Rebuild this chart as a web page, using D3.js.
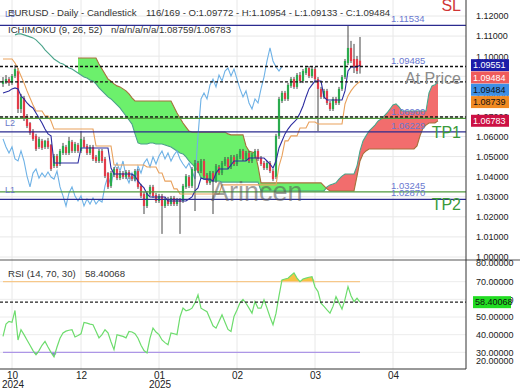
<!DOCTYPE html>
<html>
<head>
<meta charset="utf-8">
<script src="https://cdn.jsdelivr.net/npm/d3@7/dist/d3.min.js"></script>
<style>
  body { margin: 0; background: #fff; }
  #chart svg { display: block; font-family: "Liberation Sans", Arial, sans-serif; }
</style>
</head>
<body>
<div id="chart"></div>
<script>
// daily candles, oldest first
const opens = [
  1.0862, 1.0876, 1.0886, 1.0867, 1.0901, 1.0926, 1.0737, 1.0792, 1.0702, 1.0667,
  1.0627, 1.0603, 1.0548, 1.0578, 1.0548, 1.0578, 1.0558, 1.0453, 1.0503, 1.0463,
  1.0518, 1.0548, 1.0518, 1.0573, 1.0528, 1.0558, 1.0528, 1.0583, 1.0553, 1.0518,
  1.0548, 1.0498, 1.0478, 1.0528, 1.0488, 1.0418, 1.0354, 1.0408, 1.0438, 1.0393,
  1.0418, 1.0398, 1.0423, 1.0403, 1.0388, 1.0428, 1.0354, 1.0314, 1.0254, 1.0314,
  1.0349, 1.0309, 1.0279, 1.0304, 1.0254, 1.0289, 1.0264, 1.0294, 1.0264, 1.0284,
  1.0279, 1.0349, 1.0398, 1.0354, 1.0428, 1.0468, 1.0428, 1.0478, 1.0408, 1.0369,
  1.0418, 1.0378, 1.0448, 1.0418, 1.0463, 1.0488, 1.0448, 1.0498, 1.0463, 1.0498,
  1.0528, 1.0488, 1.0518, 1.0478, 1.0503, 1.0528, 1.0493, 1.0468, 1.0443, 1.0468,
  1.0428, 1.0398, 1.0603, 1.0777, 1.0817, 1.0787, 1.0852, 1.0886, 1.0847, 1.0906,
  1.0876, 1.0916, 1.0941, 1.0901, 1.0936, 1.0886, 1.0837, 1.0797, 1.0827, 1.0767,
  1.0737, 1.0787, 1.0767, 1.0837, 1.0896, 1.0966, 1.1041, 1.0986, 1.0986, 1.09772
];
const highs = [
  1.0896, 1.0906, 1.0896, 1.0911, 1.0956, 1.0941, 1.0812, 1.0802, 1.0712, 1.0672,
  1.0637, 1.0613, 1.0598, 1.0588, 1.0583, 1.0593, 1.0563, 1.0513, 1.0513, 1.0538,
  1.0568, 1.0558, 1.0598, 1.0583, 1.0573, 1.0568, 1.0627, 1.0598, 1.0563, 1.0558,
  1.0558, 1.0508, 1.0538, 1.0538, 1.0498, 1.0423, 1.0428, 1.0448, 1.0448, 1.0428,
  1.0428, 1.0433, 1.0433, 1.0413, 1.0438, 1.0438, 1.0364, 1.0324, 1.0329, 1.0359,
  1.0359, 1.0319, 1.0314, 1.0314, 1.0299, 1.0299, 1.0304, 1.0304, 1.0294, 1.0294,
  1.0364, 1.0413, 1.0408, 1.0448, 1.0483, 1.0478, 1.0488, 1.0488, 1.0418, 1.0428,
  1.0428, 1.0463, 1.0458, 1.0478, 1.0498, 1.0498, 1.0508, 1.0508, 1.0513, 1.0538,
  1.0538, 1.0528, 1.0528, 1.0518, 1.0538, 1.0538, 1.0503, 1.0478, 1.0478, 1.0478,
  1.0438, 1.0613, 1.0797, 1.0827, 1.0827, 1.0867, 1.0896, 1.0896, 1.0916, 1.0921,
  1.0936, 1.0951, 1.0951, 1.0946, 1.0946, 1.0896, 1.0847, 1.0837, 1.0837, 1.0777,
  1.0797, 1.0797, 1.0847, 1.0906, 1.0986, 1.1150, 1.1076, 1.1061, 1.1001, 1.10954
];
const lows = [
  1.0847, 1.0862, 1.0852, 1.0857, 1.0891, 1.0717, 1.0717, 1.0677, 1.0642, 1.0608,
  1.0578, 1.0528, 1.0538, 1.0533, 1.0538, 1.0538, 1.0428, 1.0443, 1.0443, 1.0453,
  1.0508, 1.0508, 1.0508, 1.0518, 1.0518, 1.0518, 1.0518, 1.0543, 1.0508, 1.0508,
  1.0478, 1.0468, 1.0468, 1.0468, 1.0393, 1.0339, 1.0344, 1.0398, 1.0383, 1.0383,
  1.0388, 1.0388, 1.0388, 1.0378, 1.0378, 1.0339, 1.0294, 1.0214, 1.0244, 1.0304,
  1.0294, 1.0269, 1.0269, 1.0115, 1.0244, 1.0254, 1.0254, 1.0254, 1.0254, 1.0115,
  1.0269, 1.0339, 1.0344, 1.0344, 1.0229, 1.0418, 1.0418, 1.0393, 1.0359, 1.0359,
  1.0214, 1.0369, 1.0408, 1.0408, 1.0453, 1.0438, 1.0438, 1.0453, 1.0453, 1.0488,
  1.0478, 1.0478, 1.0468, 1.0468, 1.0493, 1.0478, 1.0453, 1.0433, 1.0433, 1.0418,
  1.0378, 1.0388, 1.0588, 1.0767, 1.0777, 1.0777, 1.0842, 1.0837, 1.0837, 1.0866,
  1.0866, 1.0906, 1.0891, 1.0891, 1.0876, 1.0627, 1.0787, 1.0787, 1.0757, 1.0727,
  1.0727, 1.0757, 1.0757, 1.0827, 1.0886, 1.0956, 1.0966, 1.0916, 1.0911, 1.09133
];
const closes = [
  1.0876, 1.0886, 1.0867, 1.0901, 1.0936, 1.0737, 1.0797, 1.0687, 1.0652, 1.0618,
  1.0588, 1.0538, 1.0588, 1.0543, 1.0578, 1.0548, 1.0438, 1.0503, 1.0453, 1.0528,
  1.0553, 1.0518, 1.0578, 1.0528, 1.0563, 1.0528, 1.0588, 1.0548, 1.0518, 1.0548,
  1.0488, 1.0478, 1.0528, 1.0478, 1.0403, 1.0349, 1.0418, 1.0438, 1.0393, 1.0418,
  1.0398, 1.0423, 1.0398, 1.0388, 1.0428, 1.0349, 1.0304, 1.0254, 1.0319, 1.0349,
  1.0304, 1.0279, 1.0304, 1.0254, 1.0289, 1.0264, 1.0294, 1.0264, 1.0284, 1.0274,
  1.0354, 1.0403, 1.0354, 1.0438, 1.0468, 1.0428, 1.0478, 1.0403, 1.0369, 1.0418,
  1.0378, 1.0453, 1.0418, 1.0468, 1.0488, 1.0448, 1.0498, 1.0463, 1.0503, 1.0528,
  1.0488, 1.0518, 1.0478, 1.0508, 1.0528, 1.0488, 1.0463, 1.0443, 1.0468, 1.0428,
  1.0388, 1.0603, 1.0787, 1.0817, 1.0787, 1.0857, 1.0886, 1.0847, 1.0906, 1.0876,
  1.0926, 1.0941, 1.0901, 1.0936, 1.0886, 1.0837, 1.0797, 1.0827, 1.0767, 1.0737,
  1.0787, 1.0767, 1.0837, 1.0896, 1.0976, 1.1041, 1.0976, 1.0946, 1.0926, 1.09484
];

// ichimoku (9, 26, 52)
const tenkan = [
  1.0817, 1.0822, 1.0827, 1.0837, 1.0842, 1.0837, 1.0802, 1.0787, 1.0767, 1.0752,
  1.0742, 1.0717, 1.0692, 1.0667, 1.0637, 1.0613, 1.0603, 1.0468, 1.0468, 1.0468,
  1.0468, 1.0468, 1.0468, 1.0468, 1.0468, 1.0468, 1.0543, 1.0543, 1.0543, 1.0543,
  1.0543, 1.0543, 1.0543, 1.0543, 1.0543, 1.0543, 1.0443, 1.0413, 1.0413, 1.0413,
  1.0413, 1.0413, 1.0413, 1.0413, 1.0403, 1.0378, 1.0359, 1.0344, 1.0314, 1.0299,
  1.0299, 1.0299, 1.0299, 1.0299, 1.0299, 1.0279, 1.0279, 1.0279, 1.0279, 1.0279,
  1.0279, 1.0279, 1.0289, 1.0299, 1.0329, 1.0344, 1.0393, 1.0388, 1.0388, 1.0388,
  1.0378, 1.0418, 1.0438, 1.0438, 1.0438, 1.0438, 1.0458, 1.0478, 1.0478, 1.0478,
  1.0478, 1.0478, 1.0493, 1.0493, 1.0493, 1.0493, 1.0493, 1.0493, 1.0478, 1.0463,
  1.0443, 1.0478, 1.0543, 1.0578, 1.0613, 1.0637, 1.0657, 1.0672, 1.0687, 1.0717,
  1.0752, 1.0797, 1.0837, 1.0857, 1.0876, 1.0876, 1.0876, 1.0797, 1.0782, 1.0782,
  1.0782, 1.0782, 1.0782, 1.0782, 1.0827, 1.0926, 1.0946, 1.0946, 1.0946, 1.09551
];
const kijun = [
  1.0986, 1.0986, 1.0986, 1.0986, 1.0966, 1.0936, 1.0901, 1.0867, 1.0827, 1.0792,
  1.0757, 1.0727, 1.0727, 1.0727, 1.0702, 1.0702, 1.0677, 1.0637, 1.0637, 1.0637,
  1.0637, 1.0637, 1.0637, 1.0637, 1.0637, 1.0637, 1.0637, 1.0637, 1.0637, 1.0637,
  1.0637, 1.0553, 1.0553, 1.0553, 1.0553, 1.0553, 1.0553, 1.0458, 1.0458, 1.0458,
  1.0458, 1.0458, 1.0458, 1.0458, 1.0458, 1.0458, 1.0458, 1.0458, 1.0448, 1.0448,
  1.0448, 1.0448, 1.0418, 1.0418, 1.0378, 1.0378, 1.0378, 1.0339, 1.0339, 1.0314,
  1.0314, 1.0314, 1.0314, 1.0314, 1.0314, 1.0314, 1.0314, 1.0314, 1.0314, 1.0314,
  1.0314, 1.0314, 1.0314, 1.0359, 1.0359, 1.0359, 1.0359, 1.0359, 1.0359, 1.0359,
  1.0359, 1.0359, 1.0359, 1.0359, 1.0359, 1.0359, 1.0359, 1.0359, 1.0359, 1.0359,
  1.0359, 1.0359, 1.0453, 1.0503, 1.0578, 1.0578, 1.0603, 1.0603, 1.0603, 1.0642,
  1.0642, 1.0642, 1.0672, 1.0672, 1.0672, 1.0662, 1.0662, 1.0662, 1.0662, 1.0662,
  1.0662, 1.0662, 1.0662, 1.0662, 1.0762, 1.0802, 1.0827, 1.0847, 1.0862, 1.08739
];
// senkou spans, already shifted 26 bars forward (146 slots)
const spanA = [
  null, null, null, null, 1.1106, 1.1111, 1.1111, 1.1106, 1.1101, 1.1096,
  1.1091, 1.1081, 1.1066, 1.1051, 1.1031, 1.1016, 1.1001, 1.0986, 1.0976, 1.0966,
  1.0961, 1.0951, 1.0941, 1.0936, 1.0926, 1.0916, 1.0906, 1.0896, 1.0891, 1.0881,
  1.0876, 1.0862, 1.0842, 1.0827, 1.0812, 1.0797, 1.0787, 1.0772, 1.0757, 1.0742,
  1.0722, 1.0702, 1.0682, 1.0662, 1.0613, 1.0568, 1.0563, 1.0563, 1.0563, 1.0568,
  1.0568, 1.0563, 1.0563, 1.0563, 1.0558, 1.0553, 1.0548, 1.0538, 1.0528, 1.0518,
  1.0513, 1.0498, 1.0478, 1.0463, 1.0448, 1.0428, 1.0393, 1.0388, 1.0383, 1.0378,
  1.0378, 1.0378, 1.0378, 1.0373, 1.0373, 1.0373, 1.0373, 1.0373, 1.0373, 1.0373,
  1.0373, 1.0373, 1.0373, 1.0373, 1.0373, 1.0373, 1.0329, 1.0329, 1.0329, 1.0329,
  1.0329, 1.0329, 1.0329, 1.0329, 1.0329, 1.0329, 1.0329, 1.0329, 1.0329, 1.0329,
  1.0329, 1.0329, 1.0329, 1.0329, 1.0329, 1.0329, 1.0329, 1.0329, 1.0349, 1.0359,
  1.0364, 1.0369, 1.0388, 1.0403, 1.0413, 1.0413, 1.0413, 1.0413, 1.0453, 1.0528,
  1.0578, 1.0603, 1.0627, 1.0642, 1.0657, 1.0677, 1.0687, 1.0702, 1.0717, 1.0737,
  1.0757, 1.0762, 1.0747, 1.0727, 1.0727, 1.0727, 1.0727, 1.0727, 1.0727, 1.0727,
  1.0727, 1.0727, 1.0817, 1.0852, 1.0857, 1.08759
];
const spanB = [
  null, null, null, null, null, null, null, null, null, null,
  null, null, null, null, null, null, null, null, null, null,
  null, null, null, null, null, 1.0991, 1.0991, 1.0991, 1.0991, 1.0991,
  1.0991, 1.0991, 1.0961, 1.0936, 1.0911, 1.0886, 1.0876, 1.0862, 1.0852, 1.0847,
  1.0837, 1.0827, 1.0812, 1.0792, 1.0777, 1.0777, 1.0777, 1.0777, 1.0777, 1.0777,
  1.0777, 1.0777, 1.0777, 1.0777, 1.0777, 1.0777, 1.0777, 1.0747, 1.0717, 1.0692,
  1.0667, 1.0647, 1.0627, 1.0622, 1.0622, 1.0622, 1.0622, 1.0622, 1.0622, 1.0622,
  1.0622, 1.0622, 1.0622, 1.0622, 1.0622, 1.0613, 1.0608, 1.0608, 1.0608, 1.0608,
  1.0608, 1.0553, 1.0528, 1.0523, 1.0518, 1.0453, 1.0369, 1.0369, 1.0369, 1.0369,
  1.0369, 1.0369, 1.0369, 1.0369, 1.0369, 1.0369, 1.0369, 1.0369, 1.0369, 1.0369,
  1.0369, 1.0369, 1.0369, 1.0369, 1.0369, 1.0369, 1.0369, 1.0354, 1.0339, 1.0329,
  1.0329, 1.0329, 1.0329, 1.0329, 1.0329, 1.0329, 1.0329, 1.0329, 1.0403, 1.0478,
  1.0513, 1.0528, 1.0538, 1.0538, 1.0538, 1.0538, 1.0538, 1.0538, 1.0538, 1.0538,
  1.0538, 1.0538, 1.0538, 1.0538, 1.0538, 1.0538, 1.0538, 1.0538, 1.0553, 1.0603,
  1.0642, 1.0657, 1.0667, 1.0667, 1.0667, 1.06783
];
const chikouShift = 26;

// RSI (14)
const rsi = [
  39, 46, 47.5, 47, 53.7, 37, 42.8, 40, 37, 34,
  31, 28.7, 31, 34, 36.2, 33, 30, 27.4, 33, 38,
  41, 42, 42.5, 42.8, 38.7, 39.5, 40.5, 46.9, 46.5, 46,
  45.6, 42, 38.2, 40, 42.8, 41, 36, 31.5, 40, 39.5,
  39, 38.2, 41.8, 41.5, 40.5, 38, 34, 31, 29.7, 38,
  43.7, 41.5, 40, 37, 35.5, 34.3, 41, 40.5, 40, 50,
  55, 53.5, 54, 55, 58, 62.5, 55, 54, 53, 49,
  45, 43.7, 47.5, 51.2, 47, 43, 41.8, 50.3, 54, 58,
  60, 57.8, 55, 52.2, 58.7, 55, 55, 59.7, 55, 50,
  45.6, 52, 62, 71, 71.5, 71.9, 73.5, 75, 72, 70,
  71.5, 72, 72.5, 72.8, 67, 64.4, 57.8, 56, 54, 52.2,
  56, 61.5, 58, 54.5, 60, 67.2, 62, 58.7, 60.6, 58.40068
];
const rsiBands = [70, 30];

// horizontal trade levels
const levelValues = [1.11534, 1.09485, 1.0872, 1.0697, 1.069, 1.06229, 1.03245, 1.0287];
const levelKinds = ["blue", "dash", "dash", "dash", "green", "blue", "green", "blue"];
const levelTags = ["1.11534", "1.09485", "", "", "1.06900", "1.06229", "1.03245", "1.02870"];
const markerTexts = ["SL", "At Price", "TP1", "TP2"];
const markerValues = [1.11534, 1.0872, 1.06229, 1.0287];
const sideTexts = ["L3", "L2", "L1"];
const sideValues = [1.11534, 1.069, 1.03245];

// axis labels
const priceTicks = [1.00, 1.01, 1.02, 1.03, 1.04, 1.05, 1.06, 1.07, 1.08, 1.09, 1.10, 1.11, 1.12, 1.13];
const rsiTicks = [20, 30, 40, 50, 60, 70, 80];
const monthIdx = [3, 26, 52, 78, 104, 130];
const monthLabels = ["10", "12", "01", "02", "03", "04"];
const yearLabels = ["2024", "", "2025", "", "", ""];
const lastTags = [1.09551, 1.09484, 1.09484, 1.08739, 1.06783];
const lastRsi = 58.40068;

const svg = d3.select("#chart").append("svg").attr("width", 520).attr("height", 390);
svg.append("rect").attr("width", 520).attr("height", 390).attr("fill", "#fff");

const plotW = 466, mainH = 260, rsiTop = 260, rsiBottom = 369;
const x = d3.scaleLinear().domain([0, 119]).range([3, 360]);
const y = d3.scaleLinear().domain([1.0, 1.12]).range([257, 16]);
const yR = d3.scaleLinear().domain([20, 80]).range([370, 264]);
const f5 = d3.format(".5f");

const defs = svg.append("defs");
defs.append("clipPath").attr("id", "clipMain").append("rect").attr("width", plotW).attr("height", mainH);
defs.append("clipPath").attr("id", "clipRsi").append("rect")
    .attr("y", rsiTop).attr("width", plotW).attr("height", rsiBottom - rsiTop);

// grid
svg.selectAll(".vgrid").data(monthIdx).join("line").attr("class", "vgrid")
    .attr("x1", d => x(d)).attr("x2", d => x(d)).attr("y1", 0).attr("y2", rsiBottom)
    .attr("stroke", "#e8e8e8");
const main = svg.append("g").attr("clip-path", "url(#clipMain)");
main.selectAll(".hgrid").data(priceTicks).join("line").attr("class", "hgrid")
    .attr("x1", 0).attr("x2", plotW).attr("y1", d => y(d)).attr("y2", d => y(d))
    .attr("stroke", "#e8e8e8");

// cloud
const slots = spanA.map((a, j) => ({ j, a, b: spanB[j] }));
const both = slots.filter(d => d.a != null && d.b != null);
defs.append("clipPath").attr("id", "aboveA").append("path")
    .attr("d", d3.area().x(d => x(d.j)).y0(0).y1(d => y(d.a))(both));
defs.append("clipPath").attr("id", "belowA").append("path")
    .attr("d", d3.area().x(d => x(d.j)).y0(d => y(d.a)).y1(mainH)(both));
const cloud = d3.area().x(d => x(d.j)).y0(d => y(d.a)).y1(d => y(d.b));
main.append("path").attr("d", cloud(both)).attr("fill", "#6cf06c").attr("clip-path", "url(#aboveA)");
main.append("path").attr("d", cloud(both)).attr("fill", "#f26d6d").attr("clip-path", "url(#belowA)");
main.append("path")
    .attr("d", d3.line().defined(d => d.a != null).x(d => x(d.j)).y(d => y(d.a))(slots))
    .attr("fill", "none").attr("stroke", "#4aa38a").attr("stroke-width", 1.1);
main.append("path")
    .attr("d", d3.line().defined(d => d.b != null).x(d => x(d.j)).y(d => y(d.b))(slots))
    .attr("fill", "none").attr("stroke", "#a5713a").attr("stroke-width", 1.1);

// chikou
const chikou = closes.map((c, i) => ({ j: i - chikouShift, c })).filter(d => d.j >= 0);
main.append("path")
    .attr("d", d3.line().x(d => x(d.j)).y(d => y(d.c))(chikou))
    .attr("fill", "none").attr("stroke", "#6fb2e6").attr("stroke-width", 1.1);

// candles
const candles = closes.map((c, i) => ({ i, o: opens[i], h: highs[i], l: lows[i], c }));
main.selectAll(".wick").data(candles).join("line").attr("class", "wick")
    .attr("x1", d => x(d.i)).attr("x2", d => x(d.i))
    .attr("y1", d => y(d.h)).attr("y2", d => y(d.l))
    .attr("stroke", "#444").attr("stroke-width", 1);
main.selectAll(".body").data(candles).join("rect").attr("class", "body")
    .attr("x", d => x(d.i) - 1.1).attr("width", 2.2)
    .attr("y", d => y(Math.max(d.o, d.c)))
    .attr("height", d => Math.max(1, Math.abs(y(d.o) - y(d.c))))
    .attr("fill", d => d.c >= d.o ? "#2bab4e" : "#e23c4a");

// tenkan / kijun
main.append("path").attr("d", d3.line().x((d, i) => x(i)).y(d => y(d))(kijun))
    .attr("fill", "none").attr("stroke", "#e9a15c").attr("stroke-width", 1.1);
main.append("path").attr("d", d3.line().x((d, i) => x(i)).y(d => y(d))(tenkan))
    .attr("fill", "none").attr("stroke", "#2c2ca0").attr("stroke-width", 1.1);

// levels
const levelStyle = {
    blue: { stroke: "#2b2b8f", w: 1.3, dash: null },
    dash: { stroke: "#111", w: 1.4, dash: "3,2" },
    green: { stroke: "#4f9a3c", w: 1.3, dash: null }
};
levelValues.forEach((v, k) => {
    const s = levelStyle[levelKinds[k]];
    main.append("line").attr("x1", 0).attr("x2", plotW).attr("y1", y(v)).attr("y2", y(v))
        .attr("stroke", s.stroke).attr("stroke-width", s.w).attr("stroke-dasharray", s.dash);
    if (levelTags[k]) {
        main.append("text").attr("x", 391).attr("y", y(v) - 3)
            .attr("font-size", 9.5).attr("fill", "#6a78d0").text(levelTags[k]);
    }
});
const markerStyle = [
    { dy: -14, fill: "#d03535" }, { dy: 2, fill: "#8a8a8a" },
    { dy: 6, fill: "#3a9a3a" }, { dy: 11, fill: "#3a9a3a" }
];
markerTexts.forEach((t, k) => {
    main.append("text").attr("x", 461).attr("y", y(markerValues[k]) + markerStyle[k].dy)
        .attr("text-anchor", "end").attr("font-size", 16).attr("fill", markerStyle[k].fill).text(t);
});
const sideDy = [-8, 8, 1.5];
sideTexts.forEach((t, k) => {
    main.append("text").attr("x", 5).attr("y", y(sideValues[k]) + sideDy[k])
        .attr("font-size", 9).attr("fill", "#6a78c8").text(t);
});

// watermark
main.append("text").attr("x", 211).attr("y", 201).attr("font-size", 27)
    .attr("fill", "#555").attr("opacity", 0.55).text("Arincen");

// header
const head = svg.append("g").attr("font-size", 9.6).attr("fill", "#333");
head.append("text").attr("x", 8).attr("y", 16).text("EURUSD - Daily - Candlestick");
head.append("text").attr("x", 146).attr("y", 16)
    .text("116/169 - O:1.09772 - H:1.10954 - L:1.09133 - C:1.09484");
head.append("text").attr("x", 8).attr("y", 33).text("ICHIMOKU (9, 26, 52)");
head.append("text").attr("x", 111).attr("y", 33).text("n/a/n/a/n/a/1.08759/1.06783");

// RSI panel
const lower = svg.append("g").attr("clip-path", "url(#clipRsi)");
lower.selectAll(".rgrid").data(rsiTicks.slice(1, -1)).join("line").attr("class", "rgrid")
    .attr("x1", 0).attr("x2", plotW).attr("y1", d => yR(d)).attr("y2", d => yR(d))
    .attr("stroke", "#ececec");
lower.append("path")
    .attr("d", d3.area().x((d, i) => x(i)).y0(yR(rsiBands[0])).y1(d => yR(Math.max(d, rsiBands[0])))(rsi))
    .attr("fill", "#f7c244");
lower.append("path")
    .attr("d", d3.area().x((d, i) => x(i)).y0(yR(rsiBands[1])).y1(d => yR(Math.min(d, rsiBands[1])))(rsi))
    .attr("fill", "#8c7ed8");
lower.append("line").attr("x1", x(0)).attr("x2", x(119)).attr("y1", yR(rsiBands[0])).attr("y2", yR(rsiBands[0]))
    .attr("stroke", "#f6c88a").attr("stroke-width", 1.4);
lower.append("line").attr("x1", x(0)).attr("x2", x(119)).attr("y1", yR(rsiBands[1])).attr("y2", yR(rsiBands[1]))
    .attr("stroke", "#ad96e6").attr("stroke-width", 1.4);
lower.append("path").attr("d", d3.line().x((d, i) => x(i)).y(d => yR(d))(rsi))
    .attr("fill", "none").attr("stroke", "#6ddc6d").attr("stroke-width", 1.2);
lower.append("line").attr("x1", 0).attr("x2", plotW).attr("y1", yR(lastRsi)).attr("y2", yR(lastRsi))
    .attr("stroke", "#222").attr("stroke-width", 1.3).attr("stroke-dasharray", "3,2");
svg.append("text").attr("x", 8).attr("y", 277).attr("font-size", 9.6).attr("fill", "#333")
    .text("RSI (14, 70, 30)");
svg.append("text").attr("x", 85).attr("y", 277).attr("font-size", 9.6).attr("fill", "#333")
    .text(f5(lastRsi));

// frame
svg.append("line").attr("x1", 0).attr("x2", 520).attr("y1", rsiTop).attr("y2", rsiTop)
    .attr("stroke", "#555");
svg.append("line").attr("x1", plotW).attr("x2", plotW).attr("y1", 0).attr("y2", rsiBottom)
    .attr("stroke", "#333");
svg.append("line").attr("x1", 0).attr("x2", plotW).attr("y1", rsiBottom).attr("y2", rsiBottom)
    .attr("stroke", "#333");

// right axes
const pAxis = svg.append("g").attr("transform", `translate(${plotW + 6},0)`)
    .call(d3.axisRight(y).tickValues(priceTicks).tickSize(0).tickPadding(4).tickFormat(f5));
pAxis.select(".domain").remove();
pAxis.selectAll("text").attr("font-size", 9).attr("fill", "#222").attr("font-family", null);

const rAxis = svg.append("g").attr("transform", `translate(${plotW + 6},0)`)
    .call(d3.axisRight(yR).tickValues(rsiTicks).tickSize(0).tickPadding(4).tickFormat(f5));
rAxis.select(".domain").remove();
rAxis.selectAll("text").attr("font-size", 9).attr("fill", "#222").attr("font-family", null);
rAxis.selectAll(".tick").filter(d => d === 20).attr("transform", `translate(0,${yR(20) - 9})`);
rAxis.selectAll(".tick").filter(d => d === 80).attr("transform", `translate(0,${yR(80) - 1})`);

// last value tags
const tagFill = ["#1c1ca8", "#ef5b5b", "#3d8fe6", "#f08a24", "#cc1144"];
const tagText = ["#fff", "#fff", "#111", "#111", "#fff"];
let prevY = -Infinity;
lastTags.forEach((v, k) => {
    const ty = Math.max(y(v), prevY + 12.3);
    prevY = ty;
    svg.append("rect").attr("x", 471).attr("y", ty - 6).attr("width", 38).attr("height", 12)
        .attr("fill", tagFill[k]);
    svg.append("text").attr("x", 473).attr("y", ty + 3.2).attr("font-size", 9)
        .attr("fill", tagText[k]).text(f5(v));
});
svg.append("rect").attr("x", 473).attr("y", yR(lastRsi) - 6).attr("width", 38).attr("height", 12)
    .attr("fill", "#22dd22");
svg.append("text").attr("x", 475).attr("y", yR(lastRsi) + 3.2).attr("font-size", 9)
    .attr("fill", "#111").text(f5(lastRsi));

// time axis
const tAxis = svg.append("g").attr("transform", `translate(0,${rsiBottom})`)
    .call(d3.axisBottom(x).tickValues(monthIdx).tickSize(0).tickPadding(3)
        .tickFormat((d, k) => monthLabels[k]));
tAxis.select(".domain").remove();
tAxis.selectAll("text").attr("font-size", 10).attr("fill", "#222").attr("font-family", null);
svg.selectAll(".year").data(monthIdx).join("text").attr("class", "year")
    .attr("x", d => x(d) + 1).attr("y", 388).attr("text-anchor", "middle")
    .attr("font-size", 10).attr("fill", "#222")
    .text((d, k) => yearLabels[k]);
</script>
</body>
</html>
